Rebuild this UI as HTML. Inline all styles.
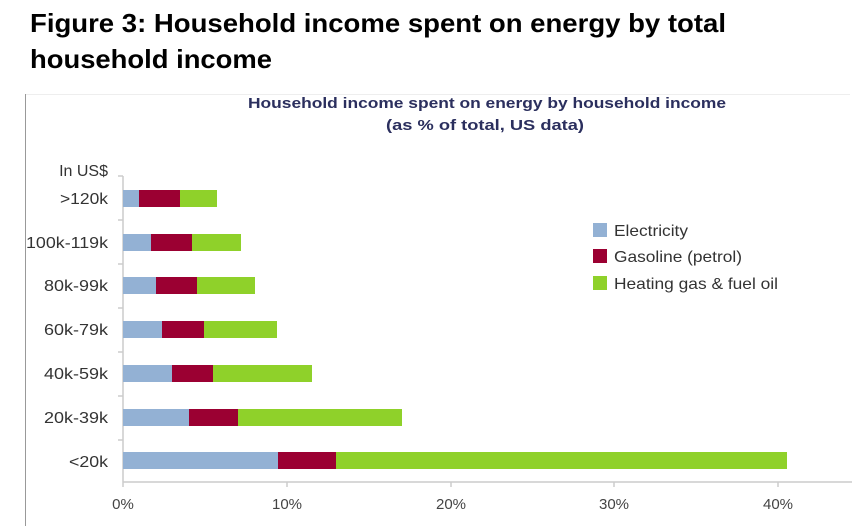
<!DOCTYPE html>
<html><head><meta charset="utf-8"><style>
body{margin:0;background:#fff;width:862px;height:526px;overflow:hidden;font-family:"Liberation Sans",Arial,sans-serif;}
</style></head><body>
<svg width="862" height="526" xmlns="http://www.w3.org/2000/svg" font-family="Liberation Sans, Arial, sans-serif">
<text x="30" y="32" font-size="26" font-weight="bold" fill="#000" textLength="696" lengthAdjust="spacingAndGlyphs">Figure 3: Household income spent on energy by total</text>
<text x="30" y="68" font-size="26" font-weight="bold" fill="#000" textLength="242" lengthAdjust="spacingAndGlyphs">household income</text>
<line x1="25.5" y1="94" x2="25.5" y2="526" stroke="#999" stroke-width="1"/>
<line x1="26" y1="94.5" x2="850" y2="94.5" stroke="#eee" stroke-width="1"/>
<text x="248" y="108" font-size="15" font-weight="bold" fill="#2b2f5e" textLength="478" lengthAdjust="spacingAndGlyphs">Household income spent on energy by household income</text>
<text x="386" y="130" font-size="15" font-weight="bold" fill="#2b2f5e" textLength="198" lengthAdjust="spacingAndGlyphs">(as % of total, US data)</text>
<text x="108" y="176" font-size="16" fill="#333" text-anchor="end">In US$</text>
<g stroke="#ccc" stroke-width="1.5">
<line x1="123" y1="176" x2="123" y2="482"/>
<line x1="123" y1="482" x2="852" y2="482"/>
<line x1="118" y1="176" x2="123" y2="176"/><line x1="118" y1="220" x2="123" y2="220"/>
<line x1="118" y1="264" x2="123" y2="264"/><line x1="118" y1="308" x2="123" y2="308"/>
<line x1="118" y1="352" x2="123" y2="352"/><line x1="118" y1="396" x2="123" y2="396"/>
<line x1="118" y1="440" x2="123" y2="440"/>
<line x1="123" y1="482" x2="123" y2="487"/><line x1="287" y1="482" x2="287" y2="487"/>
<line x1="451" y1="482" x2="451" y2="487"/><line x1="614" y1="482" x2="614" y2="487"/>
<line x1="778" y1="482" x2="778" y2="487"/>
</g>
<g font-size="16" fill="#333" text-anchor="end">
<text x="108" y="204" textLength="48" lengthAdjust="spacingAndGlyphs">&gt;120k</text>
<text x="108" y="248" textLength="82" lengthAdjust="spacingAndGlyphs">100k-119k</text>
<text x="108" y="291" textLength="64" lengthAdjust="spacingAndGlyphs">80k-99k</text>
<text x="108" y="335" textLength="64" lengthAdjust="spacingAndGlyphs">60k-79k</text>
<text x="108" y="379" textLength="64" lengthAdjust="spacingAndGlyphs">40k-59k</text>
<text x="108" y="423" textLength="64" lengthAdjust="spacingAndGlyphs">20k-39k</text>
<text x="108" y="467" textLength="39" lengthAdjust="spacingAndGlyphs">&lt;20k</text>
</g>
<g>
<rect x="123" y="190" width="16" height="17" fill="#93b1d4"/><rect x="139" y="190" width="41" height="17" fill="#9b0032"/><rect x="180" y="190" width="37" height="17" fill="#8fd12a"/>
<rect x="123" y="234" width="28" height="17" fill="#93b1d4"/><rect x="151" y="234" width="41" height="17" fill="#9b0032"/><rect x="192" y="234" width="49" height="17" fill="#8fd12a"/>
<rect x="123" y="277" width="33" height="17" fill="#93b1d4"/><rect x="156" y="277" width="41" height="17" fill="#9b0032"/><rect x="197" y="277" width="58" height="17" fill="#8fd12a"/>
<rect x="123" y="321" width="39" height="17" fill="#93b1d4"/><rect x="162" y="321" width="42" height="17" fill="#9b0032"/><rect x="204" y="321" width="73" height="17" fill="#8fd12a"/>
<rect x="123" y="365" width="49" height="17" fill="#93b1d4"/><rect x="172" y="365" width="41" height="17" fill="#9b0032"/><rect x="213" y="365" width="99" height="17" fill="#8fd12a"/>
<rect x="123" y="409" width="66" height="17" fill="#93b1d4"/><rect x="189" y="409" width="49" height="17" fill="#9b0032"/><rect x="238" y="409" width="164" height="17" fill="#8fd12a"/>
<rect x="123" y="452" width="155" height="17" fill="#93b1d4"/><rect x="278" y="452" width="58" height="17" fill="#9b0032"/><rect x="336" y="452" width="451" height="17" fill="#8fd12a"/>
</g>
<g font-size="15" fill="#444" text-anchor="middle">
<text x="123" y="509">0%</text><text x="287" y="509">10%</text><text x="451" y="509">20%</text><text x="614" y="509">30%</text><text x="778" y="509">40%</text>
</g>
<rect x="593" y="223" width="14" height="14" fill="#93b1d4"/>
<rect x="593" y="249" width="14" height="14" fill="#9b0032"/>
<rect x="593" y="276" width="14" height="14" fill="#8fd12a"/>
<g font-size="16" fill="#333">
<text x="614" y="236" textLength="74" lengthAdjust="spacingAndGlyphs">Electricity</text>
<text x="614" y="262" textLength="128" lengthAdjust="spacingAndGlyphs">Gasoline (petrol)</text>
<text x="614" y="289" textLength="164" lengthAdjust="spacingAndGlyphs">Heating gas &amp; fuel oil</text>
</g>
</svg>
</body></html>
